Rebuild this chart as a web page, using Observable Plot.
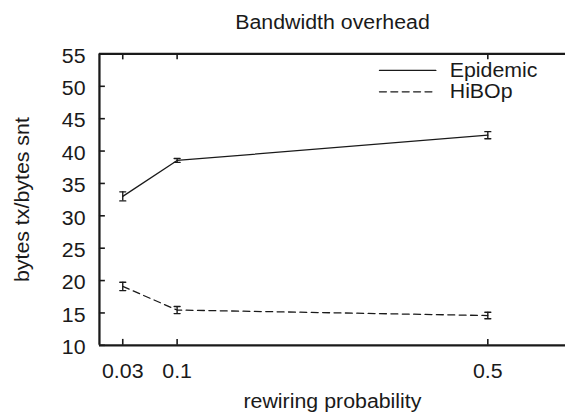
<!DOCTYPE html>
<html><head><meta charset="utf-8">
<script src="https://cdn.jsdelivr.net/npm/d3@7"></script>
<script src="https://cdn.jsdelivr.net/npm/@observablehq/plot@0.6"></script>
<style>
html,body{margin:0;padding:0;background:#fff;overflow:hidden}
#chart{width:565px;height:417px;overflow:hidden}
</style></head><body><div id="chart"></div>
<script>
// ---- data ----
const probabilities = [0.03, 0.1, 0.5];
const epidemicMean = [33.0, 38.55, 42.45];
const epidemicErr  = [0.7, 0.3, 0.55];
const hibopMean    = [19.1, 15.45, 14.6];
const hibopErr     = [0.65, 0.55, 0.5];
const seriesNames  = ["Epidemic", "HiBOp"];
const xTicks = [0.03, 0.1, 0.5];
const yTicks = [10, 15, 20, 25, 30, 35, 40, 45, 50, 55];
const titleText = "Bandwidth overhead";
const xLabel = "rewiring probability";
const yLabel = "bytes tx/bytes snt";

const means = {Epidemic: epidemicMean, HiBOp: hibopMean};
const errs  = {Epidemic: epidemicErr,  HiBOp: hibopErr};
const rows = seriesNames.flatMap(s => probabilities.map((p, i) => ({
  series: s, p, v: means[s][i], lo: means[s][i] - errs[s][i], hi: means[s][i] + errs[s][i]
})));

// ---- layout ----
const W = 571, H = 417, ML = 100, MT = 54, MB = 68.5;
const FW = W - ML, FH = H - MT - MB;
const ink = "#1a1a1a";
const fs = 20;
const dashes = {Epidemic: null, HiBOp: "7,4.5"};
const segment = {draw(ctx, l) { ctx.moveTo(0, 0); ctx.lineTo(0, -l); }};
const legendDy = {Epidemic: 16.7, HiBOp: 38.3};

const plot = Plot.plot({
  width: W, height: H,
  marginLeft: ML, marginRight: 0, marginTop: MT, marginBottom: MB,
  style: {fontFamily: "'Liberation Sans', Arial, Helvetica, sans-serif", fontSize: fs + "px", color: ink, background: "#fff"},
  x: {type: "linear", domain: [0, 0.6]},
  y: {domain: [10, 55]},
  marks: [
    // frame: bottom, top, left
    Plot.ruleY([10, 55], {stroke: ink, strokeWidth: 2.3}),
    Plot.ruleX([0], {stroke: ink, strokeWidth: 2.3}),
    // inward ticks
    Plot.tickY(yTicks, {y: d => d, insetRight: FW - 6, stroke: ink, strokeWidth: 1.6}),
    Plot.tickX(xTicks, {x: d => d, insetTop: FH - 6, stroke: ink, strokeWidth: 1.6}),
    Plot.tickX(xTicks, {x: d => d, insetBottom: FH - 6, stroke: ink, strokeWidth: 1.6}),
    Plot.axisY(yTicks, {tickSize: 0, tickPadding: 14, dy: 2.5, label: null, fontSize: fs, tickFormat: d => String(d)}),
    Plot.axisX(xTicks, {tickSize: 0, tickPadding: 19, label: null, fontSize: fs, tickFormat: d => String(d)}),
    // series lines
    ...seriesNames.map(s => Plot.line(rows.filter(r => r.series === s), {
      x: "p", y: "v", stroke: ink, strokeWidth: 1.3, strokeDasharray: dashes[s]
    })),
    // error bars
    Plot.ruleX(rows, {x: "p", y1: "lo", y2: "hi", stroke: ink, strokeWidth: 1.4}),
    Plot.vector(rows, {x: "p", y: "lo", rotate: 90, length: 6, anchor: "middle", shape: segment, stroke: ink, strokeWidth: 1.4}),
    Plot.vector(rows, {x: "p", y: "hi", rotate: 90, length: 6, anchor: "middle", shape: segment, stroke: ink, strokeWidth: 1.4}),
    // legend
    ...seriesNames.flatMap(s => [
      Plot.vector([s], {frameAnchor: "top-right", dx: -188, dy: legendDy[s], rotate: 90, length: 57, anchor: "start",
        shape: segment, stroke: ink, strokeWidth: 1.3, strokeDasharray: dashes[s]}),
      Plot.text([s], {frameAnchor: "top-right", dx: -117, dy: legendDy[s], textAnchor: "start", lineAnchor: "middle",
        text: d => d, fontSize: fs, fill: ink})
    ]),
    // titles
    Plot.text([titleText], {frameAnchor: "top", dy: -32, lineAnchor: "middle", text: d => d, fontSize: fs, fill: ink}),
    Plot.text([xLabel], {frameAnchor: "bottom", dy: 57, lineAnchor: "middle", text: d => d, fontSize: fs, fill: ink}),
    Plot.text([yLabel], {frameAnchor: "left", dx: -78, rotate: -90, textAnchor: "middle", lineAnchor: "middle",
      text: d => d, fontSize: fs, fill: ink})
  ]
});
document.getElementById("chart").appendChild(plot);
// the reference's lettering is slightly wide: stretch glyphs a little
const k = 1.08;
plot.querySelectorAll("text").forEach(t => {
  const L = t.getComputedTextLength();
  if (L > 0) { t.setAttribute("textLength", (L * k).toFixed(1)); t.setAttribute("lengthAdjust", "spacingAndGlyphs"); }
});
</script>
</body></html>
